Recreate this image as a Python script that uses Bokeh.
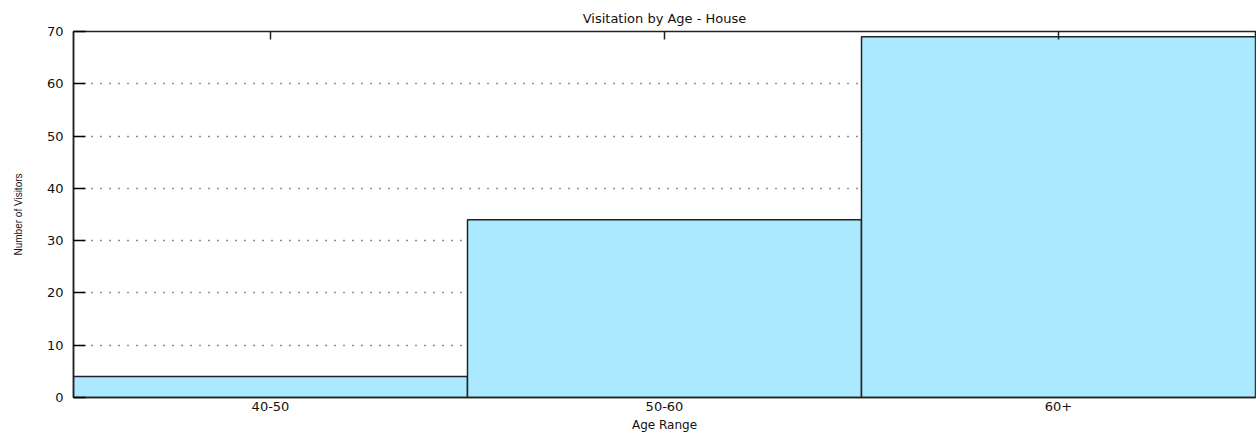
import math
from bokeh.plotting import figure
from bokeh.models import Range1d, FixedTicker
from bokeh.embed import file_html
from bokeh.resources import INLINE

categories = ["40-50", "50-60", "60+"]
visitors = [4, 34, 69]
y_ticks = [0, 10, 20, 30, 40, 50, 60, 70]
y_max = 70

FONT = "DejaVu Sans"

p = figure(x_range=categories, y_range=Range1d(0, y_max), width=1256, height=436,
           output_backend="svg", toolbar_location=None,
           min_border_left=73, min_border_right=1, min_border_top=31, min_border_bottom=39)

p.vbar(x=categories, top=visitors, width=1.0, fill_color="#aae9ff",
       line_color="#222222", line_width=1.5)

# inward ticks at category centres on the top edge
p.scatter(x=categories, y=[y_max] * len(categories), marker="dash", angle=math.pi / 2,
          size=16, line_color="#222222", line_width=1.5)

p.title.text = "Visitation by Age - House"
p.title.align = "center"
p.title.text_font = FONT
p.title.text_font_size = "13px"
p.title.text_font_style = "normal"
p.title.text_color = "#111111"
p.title.standoff = 11

p.outline_line_color = "#222222"
p.outline_line_width = 1.5
p.background_fill_color = "white"
p.border_fill_color = "white"

# grid
p.xgrid.grid_line_color = None
p.ygrid.grid_line_color = "#222222"
p.ygrid.grid_line_dash = "1 8"
p.ygrid.grid_line_width = 1.5
p.ygrid.ticker = FixedTicker(ticks=y_ticks)

# y axis
ya = p.yaxis[0]
ya.ticker = FixedTicker(ticks=y_ticks)
ya.axis_label = "Number of Visitors"
ya.axis_label_text_font = "Liberation Sans"
ya.axis_label_text_font_size = "10px"
ya.axis_label_text_font_style = "normal"
ya.axis_label_text_color = "#111111"
ya.axis_label_standoff = 20
ya.major_label_text_font = FONT
ya.major_label_text_font_size = "13px"
ya.major_label_text_color = "#111111"
ya.major_label_standoff = 10
ya.major_tick_in = 12
ya.major_tick_out = 0
ya.minor_tick_in = 0
ya.minor_tick_out = 0
ya.axis_line_color = "#222222"
ya.axis_line_width = 1.5
ya.major_tick_line_width = 1.5

# bottom x axis
xa = p.xaxis[0]
xa.axis_label = "Age Range"
xa.axis_label_text_font = FONT
xa.axis_label_text_font_size = "12px"
xa.axis_label_text_font_style = "normal"
xa.axis_label_text_color = "#111111"
xa.axis_label_standoff = 4
xa.major_label_text_font = FONT
xa.major_label_text_font_size = "13px"
xa.major_label_text_color = "#111111"
xa.major_label_standoff = 4
xa.major_tick_in = 0
xa.major_tick_out = 0
xa.axis_line_color = "#222222"
xa.axis_line_width = 1.5

open("out.html", "w").write(file_html(p, INLINE))
